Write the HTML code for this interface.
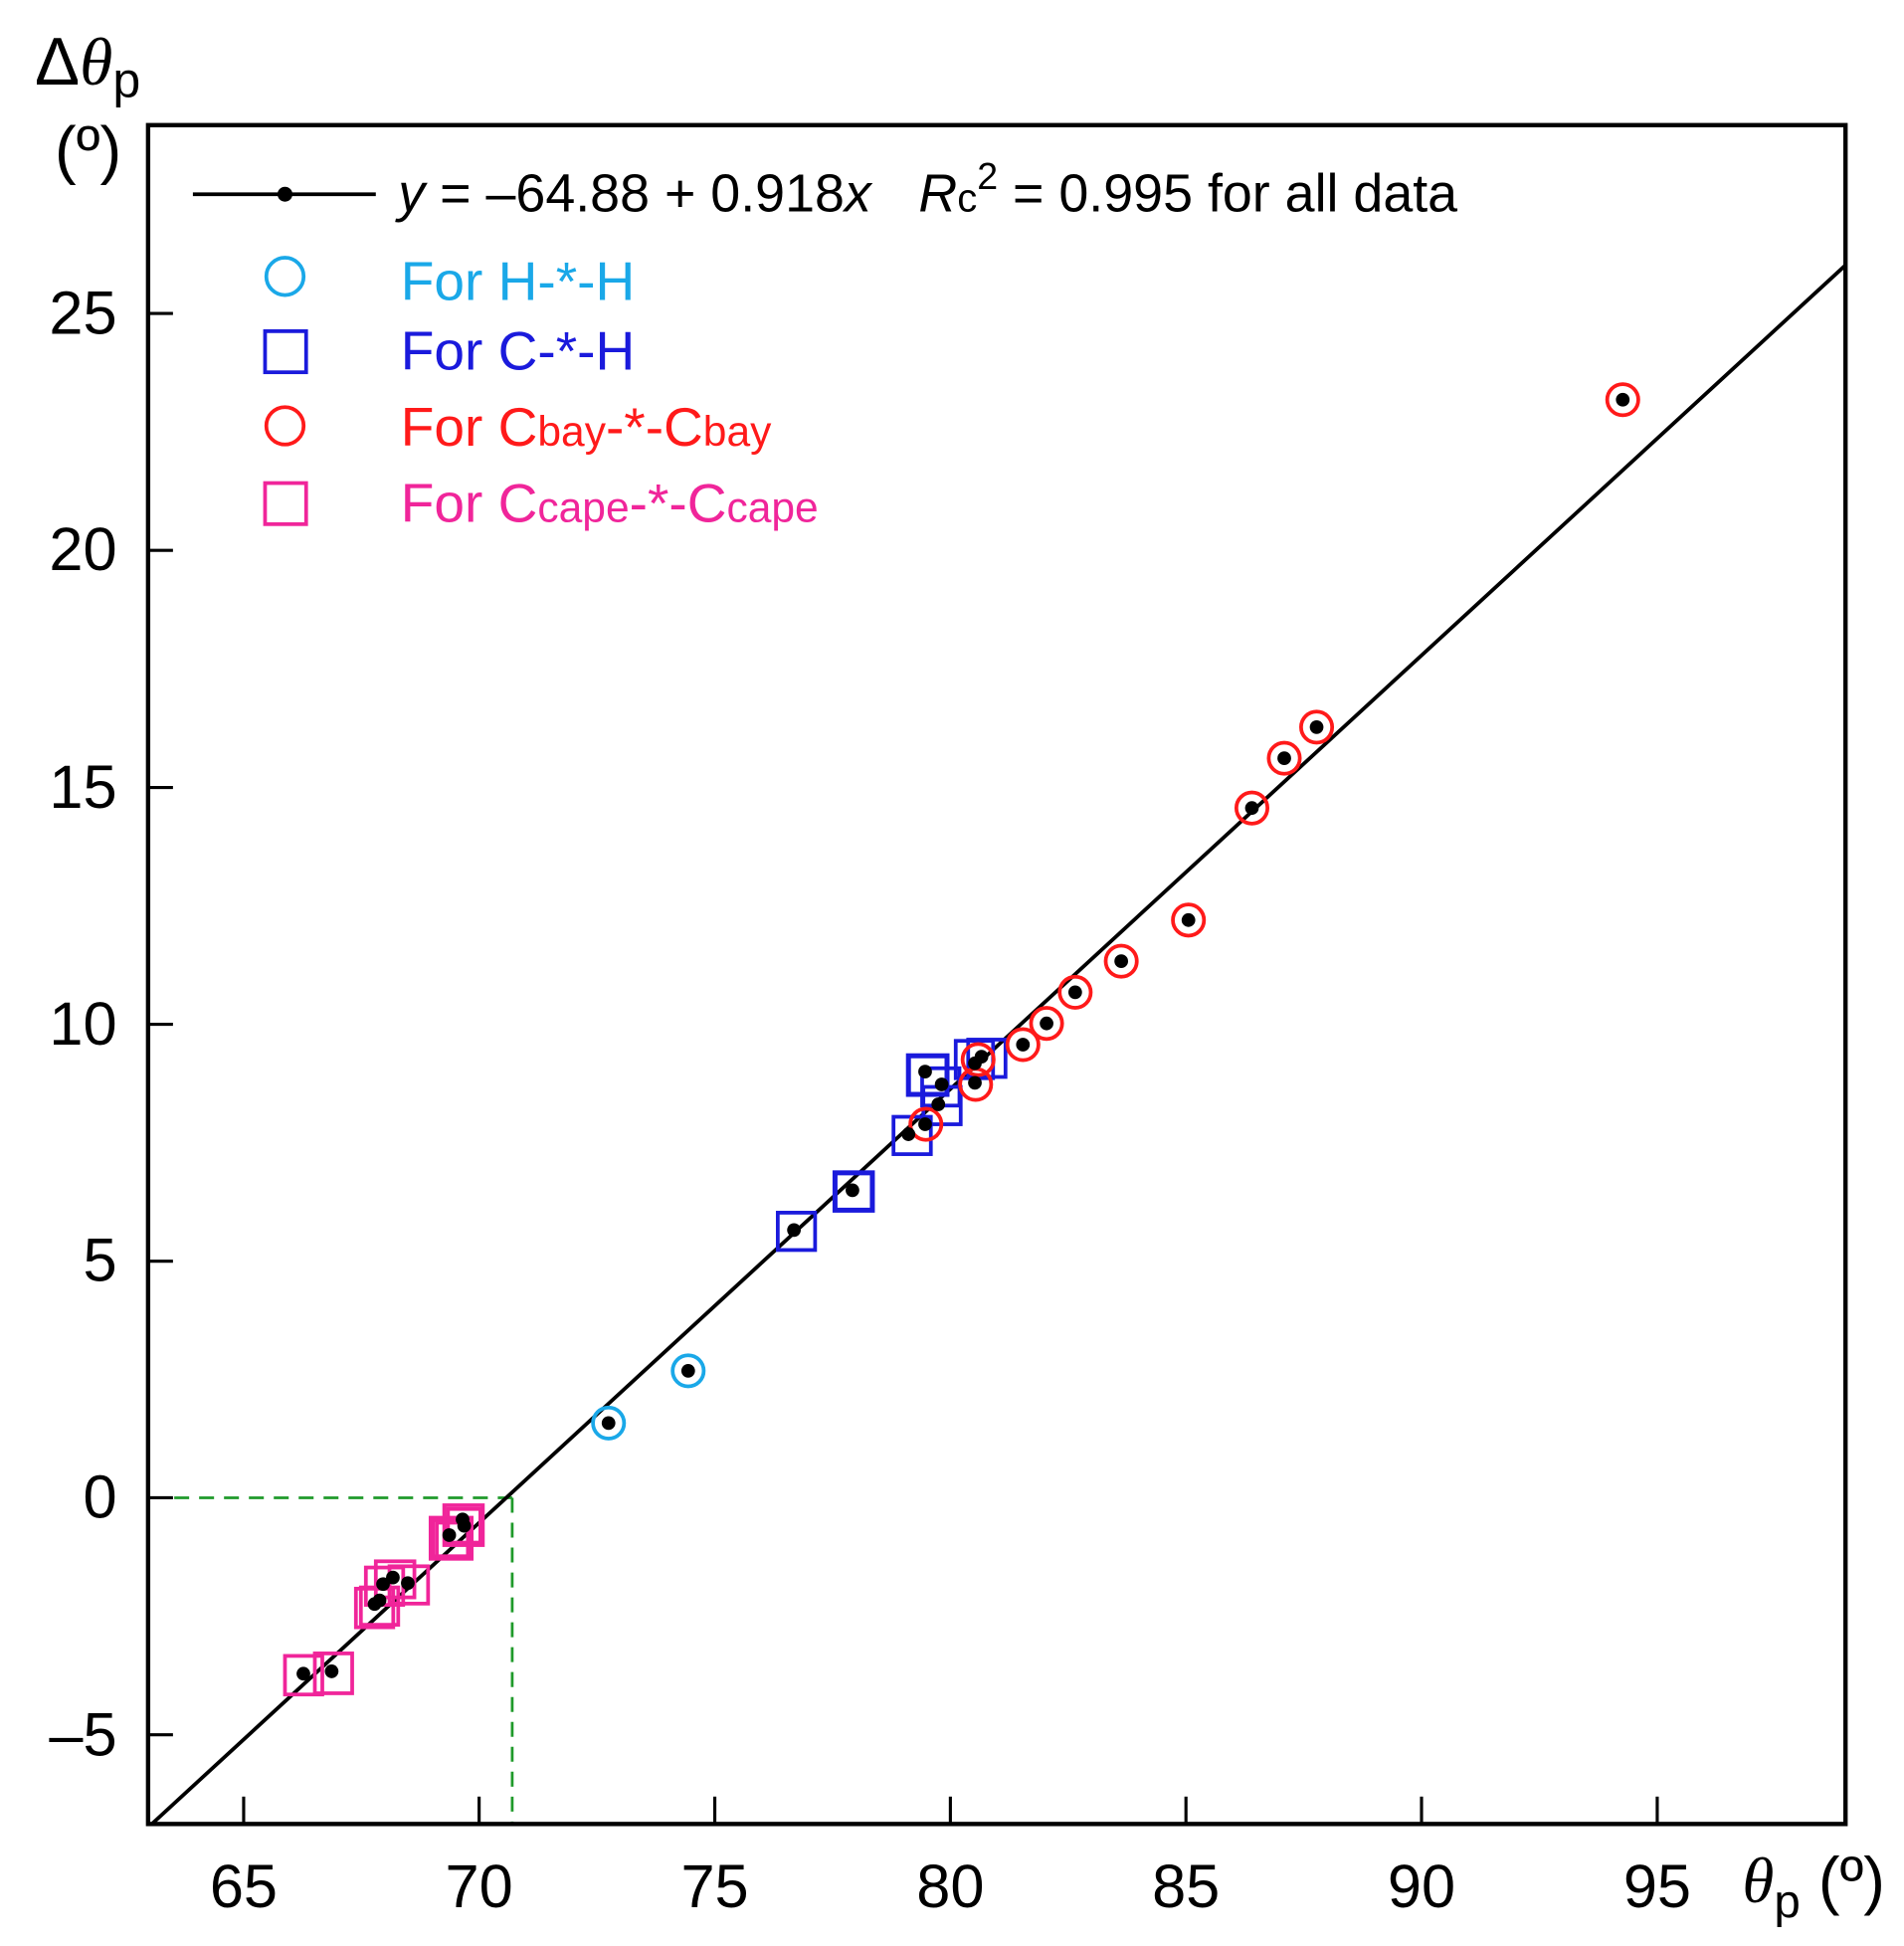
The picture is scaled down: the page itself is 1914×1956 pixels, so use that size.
<!DOCTYPE html>
<html><head><meta charset="utf-8"><style>
html,body{margin:0;padding:0;background:#fff;}
svg{display:block;}
text{font-family:"Liberation Sans",sans-serif;}
</style></head><body>
<svg width="1914" height="1956" viewBox="0 0 1530 1563" preserveAspectRatio="none" xmlns="http://www.w3.org/2000/svg">
<rect width="1530" height="1563" fill="#fff"/>
<g stroke="#1f9a2a" stroke-width="2.2" stroke-dasharray="12,8" fill="none">
<line x1="120" y1="1203" x2="411.6" y2="1203"/>
<line x1="411.6" y1="1203" x2="411.6" y2="1465"/>
</g>
<line x1="122" y1="1465" x2="1483" y2="213" stroke="#000" stroke-width="3"/>
<rect x="119" y="100.5" width="1364" height="1364.5" fill="none" stroke="#000" stroke-width="3.5"/>
<g stroke="#000" stroke-width="2.5">
<line x1="119" y1="251.8" x2="139" y2="251.8"/>
<line x1="119" y1="442" x2="139" y2="442"/>
<line x1="119" y1="632.5" x2="139" y2="632.5"/>
<line x1="119" y1="822.7" x2="139" y2="822.7"/>
<line x1="119" y1="1013" x2="139" y2="1013"/>
<line x1="119" y1="1203" x2="139" y2="1203"/>
<line x1="119" y1="1393.3" x2="139" y2="1393.3"/>
<line x1="195.8" y1="1465" x2="195.8" y2="1443"/>
<line x1="385" y1="1465" x2="385" y2="1443"/>
<line x1="574.4" y1="1465" x2="574.4" y2="1443"/>
<line x1="763.7" y1="1465" x2="763.7" y2="1443"/>
<line x1="953" y1="1465" x2="953" y2="1443"/>
<line x1="1142.3" y1="1465" x2="1142.3" y2="1443"/>
<line x1="1331.7" y1="1465" x2="1331.7" y2="1443"/>
</g>
<g font-size="49" fill="#000" text-anchor="end">
<text x="94" y="268">25</text>
<text x="94" y="458">20</text>
<text x="94" y="649">15</text>
<text x="94" y="839">10</text>
<text x="94" y="1029">5</text>
<text x="94" y="1219">0</text>
<text x="94" y="1410">–5</text>
</g>
<g font-size="49" fill="#000" text-anchor="middle">
<text x="195.8" y="1532">65</text>
<text x="385" y="1532">70</text>
<text x="574.4" y="1532">75</text>
<text x="763.7" y="1532">80</text>
<text x="953" y="1532">85</text>
<text x="1142.3" y="1532">90</text>
<text x="1331.7" y="1532">95</text>
</g>
<text x="28" y="68" font-size="54" fill="#000">Δ<tspan font-family="Liberation Serif" font-style="italic">θ</tspan><tspan font-size="40" dy="10">p</tspan></text>
<text x="44" y="138" font-size="52" fill="#000">(º)</text>
<text x="1400" y="1528" font-size="52" fill="#000"><tspan font-family="Liberation Serif" font-style="italic">θ</tspan><tspan font-size="38" dy="12">p</tspan><tspan dy="-12"> (º)</tspan></text>
<line x1="155" y1="156" x2="302" y2="156" stroke="#000" stroke-width="3"/>
<circle cx="229" cy="156" r="6" fill="#000"/>
<text x="320" y="170" font-size="43" fill="#000"><tspan font-style="italic">y</tspan> = –64.88 + 0.918<tspan font-style="italic">x</tspan><tspan dx="38" font-style="italic">R</tspan><tspan font-size="32">c</tspan><tspan font-size="30" dy="-18">2</tspan><tspan dy="18"> = 0.995 for all data</tspan></text>
<circle cx="229" cy="222" r="15" fill="none" stroke="#1aa8e8" stroke-width="3"/>
<rect x="213" y="266" width="33" height="33" fill="none" stroke="#1a1adc" stroke-width="3"/>
<circle cx="229" cy="342" r="15" fill="none" stroke="#ff1a1a" stroke-width="3"/>
<rect x="213" y="388" width="33" height="33" fill="none" stroke="#f0259a" stroke-width="3"/>
<text x="322" y="241" font-size="44" fill="#1aa8e8">For H-*-H</text>
<text x="322" y="297" font-size="44" fill="#1a1adc">For C-*-H</text>
<text x="322" y="358" font-size="44" fill="#ff1a1a">For C<tspan font-size="34">bay</tspan>-*-C<tspan font-size="34">bay</tspan></text>
<text x="322" y="419" font-size="44" fill="#f0259a">For C<tspan font-size="34">cape</tspan>-*-C<tspan font-size="34">cape</tspan></text>
<g fill="none" stroke="#f0259a" stroke-width="3">
<rect x="229" y="1330" width="30" height="31"/>
<rect x="253" y="1328" width="30" height="32"/>
<rect x="286" y="1276" width="30" height="31"/>
<rect x="290" y="1275" width="30" height="30"/>
<rect x="294" y="1259" width="30" height="30"/>
<rect x="302" y="1254" width="31" height="29"/>
<rect x="313" y="1258" width="31" height="30"/>
<rect x="347" y="1220" width="31" height="31" stroke-width="5"/>
<rect x="351" y="1223" width="25" height="27"/>
<rect x="357" y="1209" width="31" height="32"/>
<rect x="360" y="1212" width="26" height="27"/>
</g>
<g fill="none" stroke="#1a1adc" stroke-width="3">
<rect x="625" y="974" width="30" height="30"/>
<rect x="671" y="942" width="30" height="30" stroke-width="4"/>
<rect x="718" y="897" width="30" height="30"/>
<rect x="730" y="848" width="31" height="31" stroke-width="4"/>
<rect x="741" y="858" width="30" height="30"/>
<rect x="742" y="873" width="30" height="30"/>
<rect x="768" y="836" width="30" height="30"/>
<rect x="778" y="835" width="30" height="30"/>
</g>
<g fill="none" stroke="#ff1a1a" stroke-width="3">
<circle cx="1304" cy="321" r="12.5"/>
<circle cx="1058" cy="584" r="12.5"/>
<circle cx="1032" cy="609" r="12.5"/>
<circle cx="1006" cy="649" r="12.5"/>
<circle cx="955" cy="739" r="12.5"/>
<circle cx="901" cy="772" r="12.5"/>
<circle cx="864" cy="797" r="12.5"/>
<circle cx="841" cy="822" r="12.5"/>
<circle cx="822" cy="839" r="12.5"/>
<circle cx="786" cy="851" r="12.5"/>
<circle cx="784" cy="871" r="12.5"/>
<circle cx="744" cy="903" r="12.5"/>
</g>
<g fill="none" stroke="#1aa8e8" stroke-width="3">
<circle cx="489" cy="1143" r="12.5"/>
<circle cx="553" cy="1101" r="12.5"/>
</g>
<g fill="#000">
<circle cx="1304" cy="321" r="5.5"/>
<circle cx="1058" cy="584" r="5.5"/>
<circle cx="1032" cy="609" r="5.5"/>
<circle cx="1006" cy="649" r="5.5"/>
<circle cx="955" cy="739" r="5.5"/>
<circle cx="901" cy="772" r="5.5"/>
<circle cx="864" cy="797" r="5.5"/>
<circle cx="841" cy="822" r="5.5"/>
<circle cx="822" cy="839" r="5.5"/>
<circle cx="783.4" cy="854" r="5.5"/>
<circle cx="788.7" cy="848.7" r="5.5"/>
<circle cx="783.4" cy="869.7" r="5.5"/>
<circle cx="743.4" cy="860.7" r="5.5"/>
<circle cx="756.7" cy="871" r="5.5"/>
<circle cx="754" cy="887" r="5.5"/>
<circle cx="743.4" cy="903" r="5.5"/>
<circle cx="730" cy="911" r="5.5"/>
<circle cx="685" cy="956" r="5.5"/>
<circle cx="638" cy="988" r="5.5"/>
<circle cx="553" cy="1101" r="5.5"/>
<circle cx="489" cy="1143" r="5.5"/>
<circle cx="373" cy="1225.5" r="5.5"/>
<circle cx="371.7" cy="1220.4" r="5.5"/>
<circle cx="361" cy="1233" r="5.5"/>
<circle cx="327.7" cy="1271.5" r="5.5"/>
<circle cx="315.7" cy="1267" r="5.5"/>
<circle cx="307.8" cy="1272.3" r="5.5"/>
<circle cx="305" cy="1285.4" r="5.5"/>
<circle cx="301" cy="1288.3" r="5.5"/>
<circle cx="266.5" cy="1342.4" r="5.5"/>
<circle cx="243.8" cy="1344.3" r="5.5"/>
</g>
</svg>
</body></html>
